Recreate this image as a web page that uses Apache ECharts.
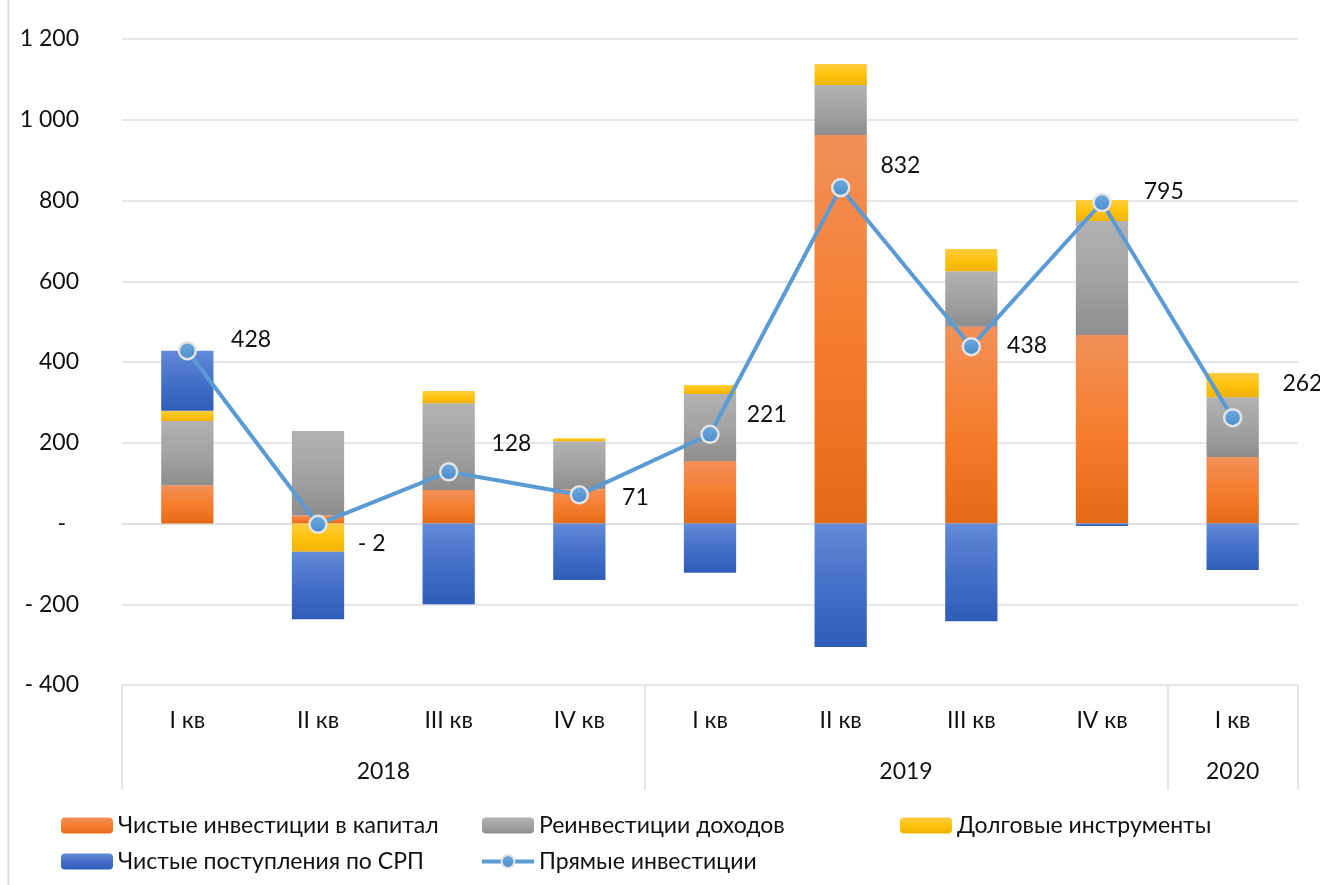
<!DOCTYPE html>
<html><head><meta charset="utf-8">
<script src="https://cdn.jsdelivr.net/npm/echarts@6/dist/echarts.min.js"></script>
<style>html,body{margin:0;padding:0;background:#fff}#c{width:1320px;height:885px}</style>
</head><body><div id="c"></div>
<script>
// ---- data ----
const quarters = ['I кв','II кв','III кв','IV кв','I кв','II кв','III кв','IV кв','I кв'];
const years = ['2018','2019','2020'];
const yearSpans = [4, 4, 1];
const equity   = [95, 20, 83, 85, 155, 962, 487, 467, 165];
const reinvest = [159, 209, 215, 119, 166, 124, 138, 282, 148];
const debt     = [25, -70, 30, 7, 22, 52, 55, 52, 60];
const psa      = [149, -167, -200, -140, -122, -306, -242, -6, -115];
const direct   = [428, -2, 128, 71, 221, 832, 438, 795, 262];
const seriesNames = ['Чистые инвестиции в капитал','Реинвестиции доходов','Долговые инструменты','Чистые поступления по СРП','Прямые инвестиции'];
const yMin = -400, yMax = 1200, yStep = 200;

// ---- layout / style ----
const FONT = "Lato, 'Noto Sans', sans-serif";
const FS = 23;
const TXT = '#111111';
const GRIDC = '#DADFE6';
const labelShift = [[29,-11],[25,19],[28,-28],[28,3],[22,-20],[25,-22],[21,-1],[27,-11],[35,-34]];

function fmt(v){
  if (v === 0) return '{z|-}';
  const a = Math.abs(v).toString().replace(/\B(?=(\d{3})+(?!\d))/g, ' ');
  return v < 0 ? '- ' + a : a;
}
function grad(c0, c1, c2){
  return new echarts.graphic.LinearGradient(0,0,0,1,[{offset:0,color:c0},{offset:0.5,color:c1},{offset:1,color:c2}]);
}

// year axis positions derived from spans
const yearCenters = [], yearBounds = [0];
let acc = 0;
yearSpans.forEach(s => { yearCenters.push(acc + s/2); acc += s; yearBounds.push(acc); });

const chart = echarts.init(document.getElementById('c'), null, {renderer:'canvas'});
const barColors = [
  grad('#F29059','#F57E2E','#E56A16'),
  grad('#B2B2B2','#A3A3A3','#8E8E8E'),
  grad('#FFCC40','#FFC20E','#F0B400'),
  grad('#628AD7','#4470C8','#2E5DB8')
];
const barData = [equity, reinvest, debt, psa];
const LINEC = '#5B9BD5';

const series = barData.map((d, i) => ({
  name: seriesNames[i], type: 'bar', stack: 'total', barWidth: '40%',
  data: d, itemStyle: {color: barColors[i]}, xAxisIndex: 0, yAxisIndex: 0
}));
series.push({
  name: seriesNames[4], type: 'line', data: direct.map((v, i) => ({
    value: v,
    label: {offset: labelShift[i]}
  })),
  xAxisIndex: 0, yAxisIndex: 0, z: 5,
  symbol: 'circle', symbolSize: 17,
  lineStyle: {color: LINEC, width: 4},
  itemStyle: {color: grad('#72ABE2','#5B9BD5','#4A8BCF'), borderColor: '#E4E4E4', borderWidth: 2.5},
  label: {show: true, position: 'right', distance: 5, fontFamily: FONT, fontSize: FS, color: TXT,
    formatter: p => fmt(p.value), rich: {z: {fontFamily: FONT, fontSize: FS, color: TXT}}}
});

const legendCommon = {orient: 'vertical', itemWidth: 52, itemHeight: 16, itemGap: 13, padding: 0,
  textStyle: {fontFamily: FONT, fontSize: FS, color: TXT, lineHeight: 23}, top: 814};

chart.setOption({
  animation: false,
  backgroundColor: '#fff',
  textStyle: {fontFamily: FONT},
  grid: {left: 122, right: 22, top: 39, bottom: 200, containLabel: false},
  xAxis: [{
    type: 'category', data: quarters, position: 'bottom',
    axisLine: {show: true, lineStyle: {color: GRIDC, width: 1.5}},
    axisTick: {show: false},
    axisLabel: {fontFamily: FONT, fontSize: FS, color: TXT, margin: 24, interval: 0},
    splitLine: {show: false}
  }, {
    type: 'value', min: 0, max: quarters.length, position: 'bottom', gridIndex: 0,
    axisLine: {show: false},
    axisTick: {show: true, customValues: yearBounds, length: 105, lineStyle: {color: GRIDC, width: 1.5}},
    axisLabel: {show: true, customValues: yearCenters, margin: 75, fontFamily: FONT, fontSize: FS, color: TXT,
      formatter: v => { const k = yearCenters.findIndex(c => Math.abs(c - v) < 1e-6); return k >= 0 ? years[k] : ''; }},
    splitLine: {show: false}
  }],
  yAxis: {
    type: 'value', min: yMin, max: yMax, interval: yStep,
    axisLine: {show: false}, axisTick: {show: false},
    splitLine: {show: true, lineStyle: {color: GRIDC, width: 1.5}},
    axisLabel: {fontFamily: FONT, fontSize: FS, color: TXT, margin: 43, align: 'right',
      formatter: fmt, rich: {z: {fontFamily: FONT, fontSize: FS, color: TXT, padding: [0, 13, 0, 0]}}}
  },
  legend: [
    Object.assign({left: 61, data: [seriesNames[0], seriesNames[3]]}, legendCommon),
    Object.assign({left: 480, data: [seriesNames[1], {name: seriesNames[4], lineStyle: {width: 4, color: LINEC}}]}, legendCommon),
    Object.assign({left: 900, data: [seriesNames[2]]}, legendCommon)
  ],
  graphic: [{type: 'line', shape: {x1: 8.5, y1: 0, x2: 8.5, y2: 885}, style: {stroke: GRIDC, lineWidth: 2}, silent: true}],
  series: series
});
</script></body></html>
